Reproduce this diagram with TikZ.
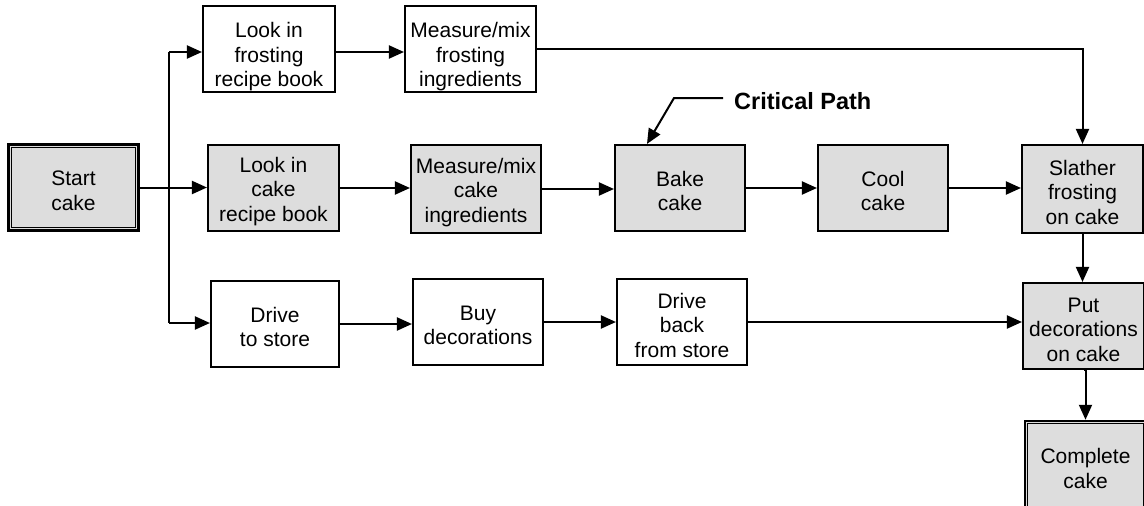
\documentclass[tikz,border=0pt]{standalone}
\usepackage{fontspec}
\setmainfont{Liberation Sans}
\usetikzlibrary{arrows.meta,calc}
\definecolor{cakegray}{RGB}{221,221,221}
\newcommand{\topdrop}{\rule{0pt}{31pt}}
\newcommand{\middrop}{\rule{0pt}{21.5pt}}
\tikzset{
  box/.style={draw, line width=2.1pt, inner sep=0pt, align=center,
    font=\fontsize{21pt}{24.5pt}\selectfont},
  gbox/.style={box, fill=cakegray},
  dblbox/.style={gbox, line width=2.5pt},
  wire/.style={line width=2pt},
  arr/.style={line width=2pt, -{Triangle[length=15pt,width=13pt]}},
  innerline/.style={line width=1pt}
}
\begin{document}
\begin{tikzpicture}[x=1pt,y=-1pt]
\useasboundingbox (0,0) rectangle (1144,506);
% nodes
\node[dblbox, minimum width=130pt, minimum height=86pt] (start) at (73.5,187.5) {\middrop Start\\cake};
\draw[innerline] ([shift={(4,4)}]start.north west) rectangle ([shift={(-4,-4)}]start.south east);

\node[box, minimum width=132pt, minimum height=86pt] (lf) at (269,49) {\topdrop Look in\\frosting\\recipe book};
\node[box, minimum width=131pt, minimum height=86pt] (mf) at (470.5,49) {\topdrop Measure/mix\\frosting\\ingredients};

\node[gbox, minimum width=131pt, minimum height=86pt] (lc) at (273.5,188) {\middrop Look in\\cake\\recipe book};
\node[gbox, minimum width=130pt, minimum height=88pt] (mc) at (476,189) {\middrop Measure/mix\\cake\\ingredients};
\node[gbox, minimum width=130pt, minimum height=86pt] (bake) at (680,188) {\middrop Bake\\cake};
\node[gbox, minimum width=130pt, minimum height=86pt] (cool) at (883,188) {\middrop Cool\\cake};
\node[gbox, minimum width=121pt, minimum height=88pt] (slather) at (1082.5,189) {\middrop Slather\\frosting\\on cake};

\node[box, minimum width=128pt, minimum height=86pt] (drive) at (275,324) {\middrop Drive\\to store};
\node[box, minimum width=130pt, minimum height=86pt] (buy) at (478,322) {\middrop Buy\\decorations};
\node[box, minimum width=130pt, minimum height=86pt] (back) at (682,322) {\middrop Drive\\back\\from store};
\node[gbox, minimum width=121pt, minimum height=86pt] (put) at (1083.5,326) {\middrop Put\\decorations\\on cake};

\node[dblbox, minimum width=121pt, minimum height=89pt] (complete) at (1085.5,465.5) {\middrop Complete\\cake};
\draw[innerline] ([shift={(4,4)}]complete.north west) rectangle ([shift={(-4,-4)}]complete.south east);

% critical path label
\node[font=\bfseries\fontsize{23.5pt}{28pt}\selectfont, anchor=base west, inner sep=0pt] (cp) at (734,109) {Critical Path};
\coordinate (cps) at ($(cp.base west)+(-11,-11)$);
\coordinate (cpk) at (674,98);
\draw[arr] (cps) -- (cpk) -- ($(bake.north west)!0.25!(bake.north east)$);

% branching from start
\coordinate (jt) at (169,52);
\coordinate (jb) at (169,323);
\draw[wire] (jt) -- (jb);
\draw[arr] (jt) -- (jt -| lf.west);
\draw[arr] (jb) -- (jb -| drive.west);
\draw[arr] (start.east) -- (start.east -| lc.west);

% top row
\draw[arr] (lf.east |- jt) -- (jt -| mf.west);
\draw[arr] (mf.east) -| (slather.north);

% middle row
\draw[arr] (lc.east) -- (lc.east -| mc.west);
\draw[arr] (mc.east) -- (mc.east -| bake.west);
\draw[arr] (bake.east) -- (bake.east -| cool.west);
\draw[arr] (cool.east) -- (cool.east -| slather.west);

% bottom row
\draw[arr] (drive.east) -- (drive.east -| buy.west);
\draw[arr] (buy.east) -- (buy.east -| back.west);
\draw[arr] (back.east) -- (back.east -| put.west);

% right column
\draw[arr] (slather.south) -- (slather.south |- put.north);
\draw[arr] (put.south) -- (put.south -| complete.north) -- (complete.north);
\end{tikzpicture}
\end{document}
